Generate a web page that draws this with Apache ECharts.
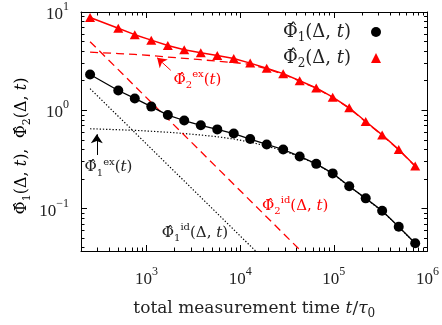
<!DOCTYPE html>
<html><head><meta charset="utf-8">
<script src="https://cdn.jsdelivr.net/npm/echarts@6/dist/echarts.min.js"></script>
<style>html,body{margin:0;padding:0;background:#fff}#c{width:442px;height:325px}</style>
</head><body><div id="c"></div>
<script>
// ---- data ----
const timeValues = [250, 500, 750, 1125, 1690, 2530, 3800, 5700, 8540, 12800, 19200, 28800, 43200, 64900, 97300, 146000, 219000, 328000, 493000, 739000];
const phi1Values = [2.31, 1.59, 1.32, 1.09, 0.894, 0.787, 0.703, 0.639, 0.580, 0.510, 0.449, 0.399, 0.339, 0.285, 0.228, 0.169, 0.127, 0.095, 0.0653, 0.0443];
const phi2Values = [8.80, 6.83, 5.88, 5.17, 4.56, 4.13, 3.84, 3.61, 3.36, 3.02, 2.68, 2.36, 2.00, 1.69, 1.36, 1.06, 0.769, 0.562, 0.399, 0.271];
const phi1ExValues = [0.649, 0.634, 0.625, 0.612, 0.598, 0.580, 0.560, 0.538, 0.510, 0.474, 0.432, 0.388, 0.335, 0.283, 0.227, 0.168, 0.126, 0.0945, 0.065, 0.0441];
const phi2ExValues = [3.90, 3.78, 3.70, 3.60, 3.48, 3.38, 3.27, 3.16, 3.06, 2.94, 2.64, 2.33, 1.98, 1.675, 1.35, 1.05, 0.762, 0.557, 0.396, 0.269];
const phi1IdTimes = [250, 14600];
const phi1IdValues = [1.66, 0.037];
const phi2IdTimes = [250, 44600];
const phi2IdValues = [4.99, 0.037];
const xMajorTicks = [1e3, 1e4, 1e5, 1e6];
const xMinorTicks = [300, 400, 500, 600, 700, 800, 900, 2000, 3000, 4000, 5000, 6000, 7000, 8000, 9000, 20000, 30000, 40000, 50000, 60000, 70000, 80000, 90000, 200000, 300000, 400000, 500000, 600000, 700000, 800000, 900000];
const yMajorTicks = [0.1, 1, 10];
const yMinorTicks = [0.04, 0.05, 0.06, 0.07, 0.08, 0.09, 0.2, 0.3, 0.4, 0.5, 0.6, 0.7, 0.8, 0.9, 2, 3, 4, 5, 6, 7, 8, 9];

const SERIF = 'DejaVu Serif';
const NUM = 'Liberation Serif';
const TXT = '#222';
const RED = '#ff0000';

function mathRich(size, color) {
  return {
    n: {fontFamily: SERIF, fontSize: size, color: color, lineHeight: size + 6, verticalAlign: 'middle'},
    i: {fontFamily: SERIF, fontSize: size, fontStyle: 'italic', color: color, lineHeight: size + 6, verticalAlign: 'middle'},
    h: {fontFamily: SERIF, fontSize: size, color: color, lineHeight: size + 6, verticalAlign: 'middle'},
    s: {fontFamily: SERIF, fontSize: Math.round(size * 0.68), color: color, verticalAlign: 'bottom'},
    u: {fontFamily: SERIF, fontSize: Math.round(size * 0.68), color: color, verticalAlign: 'top'}
  };
}
function tickRich() {
  return {
    b: {fontFamily: NUM, fontSize: 17, color: TXT, lineHeight: 22, verticalAlign: 'bottom'},
    e: {fontFamily: NUM, fontSize: 12, color: TXT, verticalAlign: 'top'}
  };
}
function powLabel(v) {
  const e = Math.round(Math.log10(v));
  return '{b|10}{e|' + (e < 0 ? '\u2212' + (-e) : e) + '}';
}
const lineOf = (xs, ys) => xs.map((x, k) => [x, ys[k]]);

function xAxisDef(pos, ticks, len, withLabels, withLine) {
  return {
    type: 'log', logBase: 10, min: 200, max: 1e6, position: pos,
    splitLine: {show: false},
    axisLine: {show: withLine, lineStyle: {color: '#000', width: 1}},
    axisTick: {show: true, inside: true, length: len, customValues: ticks, lineStyle: {color: '#000', width: 1}},
    axisLabel: withLabels ? {show: true, customValues: xMajorTicks, margin: 15, formatter: powLabel, rich: tickRich()} : {show: false},
    name: withLabels ? '{n|total measurement time }{i|t}{n|/}{i|\u03c4}{s|0}' : '',
    nameLocation: 'middle', nameGap: 46,
    nameTextStyle: {rich: mathRich(17, TXT)}
  };
}
function yAxisDef(pos, ticks, len, withLabels, withLine) {
  return {
    type: 'log', logBase: 10, min: 0.037, max: 10, position: pos,
    splitLine: {show: false},
    axisLine: {show: withLine, lineStyle: {color: '#000', width: 1}},
    axisTick: {show: true, inside: true, length: len, customValues: ticks, lineStyle: {color: '#000', width: 1}},
    axisLabel: withLabels ? {show: true, customValues: yMajorTicks, margin: 12, formatter: powLabel, rich: tickRich()} : {show: false}
  };
}

const chart = echarts.init(document.getElementById('c'), null, {renderer: 'canvas'});
const annoRed = mathRich(15, RED);
const annoBlk = mathRich(15, TXT);

chart.setOption({
  animation: false,
  backgroundColor: '#fff',
  grid: {left: 81, right: 14, top: 12, bottom: 63},
  xAxis: [
    xAxisDef('bottom', xMajorTicks, 6, true, true),
    xAxisDef('top', xMajorTicks, 6, false, true),
    xAxisDef('bottom', xMinorTicks, 3.5, false, false),
    xAxisDef('top', xMinorTicks, 3.5, false, false)
  ],
  yAxis: [
    yAxisDef('left', yMajorTicks, 6, true, true),
    yAxisDef('right', yMajorTicks, 6, false, true),
    yAxisDef('left', yMinorTicks, 3.5, false, false),
    yAxisDef('right', yMinorTicks, 3.5, false, false)
  ],
  legend: {
    orient: 'vertical', right: 61, top: 23, padding: 0, itemGap: 5,
    align: 'right', itemWidth: 10, itemHeight: 10,
    data: [{name: 'p1', icon: 'circle'}, {name: 'p2', icon: 'triangle'}],
    formatter: function (name) {
      return name === 'p1' ? '{h|\u03a6\u0302}{s|1}{n|(\u0394, }{i|t}{n|)}' : '{h|\u03a6\u0302}{s|2}{n|(\u0394, }{i|t}{n|)}';
    },
    textStyle: {padding: [0, 15, 0, 0], rich: mathRich(18, TXT)}
  },
  graphic: [{
    type: 'text', x: 22, y: 146, rotation: Math.PI / 2,
    style: {
      text: '{h|\u03a6\u0302}{s|1}{n|(\u0394, }{i|t}{n|),  }{h|\u03a6\u0302}{s|2}{n|(\u0394, }{i|t}{n|)}',
      align: 'center', verticalAlign: 'middle', rich: mathRich(16, TXT)
    }
  }],
  series: [
    {
      name: 'p1id', type: 'line', data: lineOf(phi1IdTimes, phi1IdValues), showSymbol: false, silent: true,
      lineStyle: {color: '#000', width: 1.2, type: [1.3, 1.9]},
      markPoint: {
        symbol: 'circle', symbolSize: 0, silent: true,
        label: {show: true, position: 'inside', rich: annoBlk},
        data: [{coord: [3290, 0.056], label: {formatter: '{h|\u03a6\u0302}{s|1}{u|id}{n|(\u0394, }{i|t}{n|)}'}}]
      }
    },
    {
      name: 'p1ex', type: 'line', data: lineOf(timeValues, phi1ExValues), showSymbol: false, silent: true,
      lineStyle: {color: '#000', width: 1.2, type: [1.3, 1.9]},
      markPoint: {
        symbol: 'circle', symbolSize: 0, silent: true,
        label: {show: true, position: 'inside', rich: annoBlk},
        data: [{coord: [393, 0.262], label: {formatter: '{h|\u03a6\u0302}{s|1}{u|ex}{n|(}{i|t}{n|)}'}}]
      },
      markLine: {
        symbol: ['none', 'arrow'], symbolSize: 9, silent: true,
        lineStyle: {color: '#000', width: 1, type: 'solid'}, label: {show: false},
        data: [[{coord: [295, 0.351]}, {coord: [295, 0.57]}]]
      }
    },
    {
      name: 'p2id', type: 'line', data: lineOf(phi2IdTimes, phi2IdValues), showSymbol: false, silent: true,
      lineStyle: {color: RED, width: 1.3, type: [8, 5]},
      markPoint: {
        symbol: 'circle', symbolSize: 0, silent: true,
        label: {show: true, position: 'inside', rich: annoRed},
        data: [{coord: [38700, 0.1062], label: {formatter: '{h|\u03a6\u0302}{s|2}{u|id}{n|(\u0394, }{i|t}{n|)}'}}]
      }
    },
    {
      name: 'p2ex', type: 'line', data: lineOf(timeValues, phi2ExValues), showSymbol: false, silent: true,
      lineStyle: {color: RED, width: 1.3, type: [8, 5]},
      markPoint: {
        symbol: 'circle', symbolSize: 0, silent: true,
        label: {show: true, position: 'inside', rich: annoRed},
        data: [{coord: [3500, 2.02], label: {formatter: '{h|\u03a6\u0302}{s|2}{u|ex}{n|(}{i|t}{n|)}'}}]
      },
      markLine: {
        symbol: ['none', 'arrow'], symbolSize: 9, silent: true,
        lineStyle: {color: RED, width: 1, type: 'solid'}, label: {show: false},
        data: [[{coord: [1815, 2.55]}, {coord: [1300, 3.42]}]]
      }
    },
    {
      name: 'p1', type: 'line', data: lineOf(timeValues, phi1Values),
      symbol: 'circle', symbolSize: 10, showAllSymbol: true,
      itemStyle: {color: '#000'}, lineStyle: {color: '#000', width: 1.3}
    },
    {
      name: 'p2', type: 'line', data: lineOf(timeValues, phi2Values),
      symbol: 'triangle', symbolSize: [10, 9], showAllSymbol: true,
      itemStyle: {color: RED}, lineStyle: {color: RED, width: 1.5}
    }
  ]
});
</script>
</body></html>
